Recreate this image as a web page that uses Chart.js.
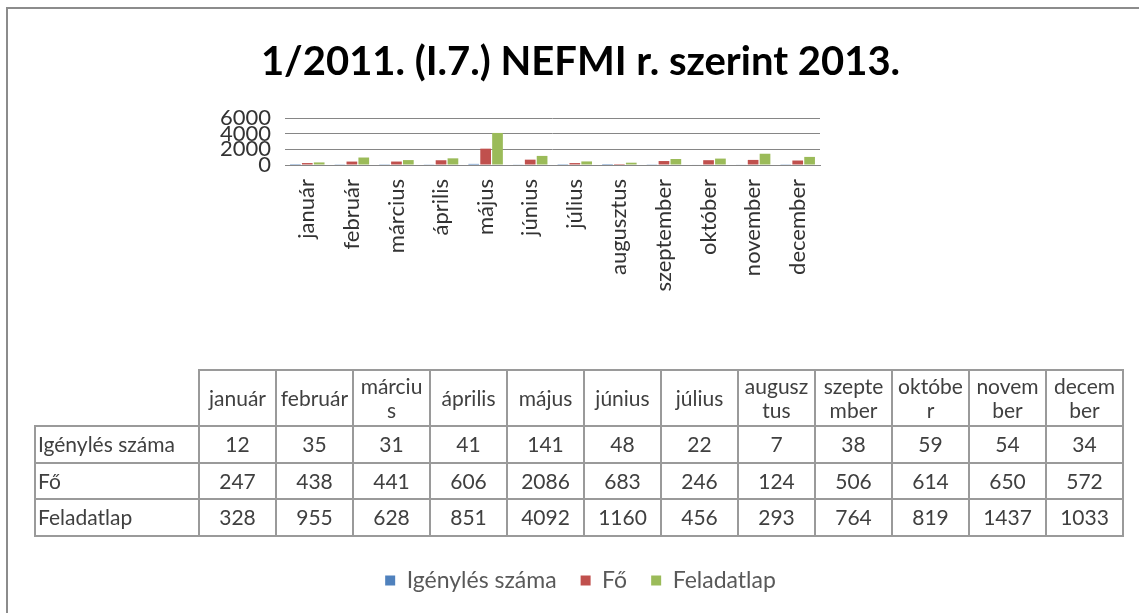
<!DOCTYPE html>
<html>
<head>
<meta charset="utf-8">
<script src="https://cdn.jsdelivr.net/npm/chart.js@4.4.0/dist/chart.umd.min.js"></script>
<style>
  html, body { margin: 0; padding: 0; background: #fff; }
  #wrap { position: relative; width: 1139px; height: 613px; overflow: hidden; font-family: Lato, sans-serif; }
  #frame { position: absolute; left: 6px; top: 7px; width: 1200px; height: 700px;
           border-left: 2px solid #8c8c8c; border-top: 2px solid #8c8c8c; }
  #chart { position: absolute; left: 0; top: 0; }
  #dataTable { position: absolute; left: 34px; top: 369px; width: 1088px;
               border-collapse: collapse; table-layout: fixed;
               font-size: 21px; color: #404040; }
  #dataTable td, #dataTable th { border: 2px solid #9a9a9a; padding: 0 3px; font-weight: normal;
               text-align: center; line-height: 1.15; word-break: break-all; overflow: hidden; }
  #dataTable thead th { height: 54px; }
  #dataTable tbody td { height: 34.6px; }
  #dataTable tbody td.name { text-align: left; padding-left: 2px; word-break: normal; white-space: nowrap; }
  #dataTable th.blank { border-top: none; border-left: none; }
</style>
</head>
<body>
<div id="wrap">
  <div id="frame"></div>
  <canvas id="chart" width="1139" height="613"></canvas>
  <table id="dataTable">
    <colgroup id="cols"></colgroup>
    <thead><tr id="headRow"><th class="blank"></th></tr></thead>
    <tbody id="bodyRows"></tbody>
  </table>
</div>
<script>
var months = ['január', 'február', 'március', 'április', 'május', 'június',
              'július', 'augusztus', 'szeptember', 'október', 'november', 'december'];
var seriesNames = ['Igénylés száma', 'Fő', 'Feladatlap'];
var igenyles = [12, 35, 31, 41, 141, 48, 22, 7, 38, 59, 54, 34];
var fo = [247, 438, 441, 606, 2086, 683, 246, 124, 506, 614, 650, 572];
var feladatlap = [328, 955, 628, 851, 4092, 1160, 456, 293, 764, 819, 1437, 1033];
var yTicks = [0, 2000, 4000, 6000];
var colors = ['#4F81BD', '#C0504D', '#9BBB59'];

document.addEventListener('DOMContentLoaded', function () {
    // data table under the chart
    var cols = document.getElementById('cols');
    var c0 = document.createElement('col');
    c0.style.width = '164px';
    cols.appendChild(c0);
    var headRow = document.getElementById('headRow');
    months.forEach(function (m) {
        var c = document.createElement('col');
        c.style.width = '77px';
        cols.appendChild(c);
        var th = document.createElement('th');
        th.textContent = m;
        headRow.appendChild(th);
    });
    var body = document.getElementById('bodyRows');
    [igenyles, fo, feladatlap].forEach(function (vals, i) {
        var tr = document.createElement('tr');
        var td = document.createElement('td');
        td.className = 'name';
        td.textContent = seriesNames[i];
        tr.appendChild(td);
        vals.forEach(function (v) {
            var cell = document.createElement('td');
            cell.textContent = v;
            tr.appendChild(cell);
        });
        body.appendChild(tr);
    });

    var ctx = document.getElementById('chart').getContext('2d');
    var font = { family: 'Lato', size: 22 };

    new Chart(ctx, {
        type: 'bar',
        data: {
            labels: months,
            datasets: [
                { label: seriesNames[0], data: igenyles, backgroundColor: colors[0] },
                { label: seriesNames[1], data: fo, backgroundColor: colors[1] },
                { label: seriesNames[2], data: feladatlap, backgroundColor: colors[2] }
            ]
        },
        options: {
            responsive: false,
            animation: false,
            layout: { padding: { left: 22, right: 0, top: 0, bottom: 11 } },
            datasets: { bar: { categoryPercentage: 0.8, barPercentage: 0.9 } },
            plugins: {
                title: {
                    display: true,
                    text: '1/2011. (I.7.) NEFMI r. szerint 2013.',
                    color: '#000',
                    font: { family: 'Lato', size: 40, weight: 'bold' },
                    padding: { top: 38, bottom: 32 }
                },
                legend: {
                    position: 'bottom',
                    labels: { boxWidth: 10, boxHeight: 10, padding: 24, color: '#595959',
                              font: { family: 'Lato', size: 23 } }
                },
                tooltip: { enabled: false }
            },
            scales: {
                x: {
                    grid: { display: false },
                    border: { color: '#868686' },
                    ticks: { maxRotation: 90, minRotation: 90, autoSkip: false, color: '#333', font: font, padding: 6 },
                    afterFit: function (s) { s.height = 380; }
                },
                y: {
                    min: 0,
                    max: 6000,
                    afterBuildTicks: function (s) { s.ticks = yTicks.map(function (v) { return { value: v }; }); },
                    grid: { color: '#868686', drawTicks: false },
                    border: { display: false },
                    ticks: { autoSkip: false, color: '#333', font: font, padding: 14,
                             callback: function (v) { return String(v); } },
                    afterFit: function (s) { s.width = 263; }
                },
                yR: {
                    position: 'right',
                    grid: { display: false },
                    border: { display: false },
                    ticks: { display: false },
                    afterFit: function (s) { s.width = 319; }
                }
            }
        }
    });
});
</script>
</body>
</html>
